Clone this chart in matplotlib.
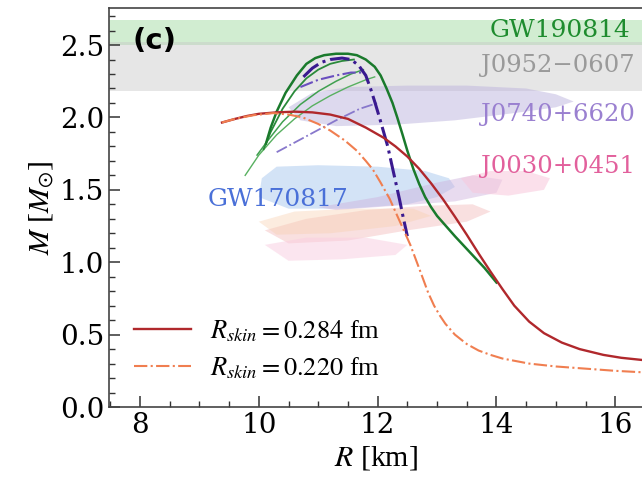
import matplotlib
matplotlib.use("Agg")
import matplotlib.pyplot as plt
from matplotlib.ticker import MultipleLocator

plt.rcParams['font.family'] = ['DejaVu Serif']
plt.rcParams['mathtext.fontset'] = 'stix'

# R_skin = 0.284 fm (solid dark red)
r_284 = [9.38, 9.6, 9.8, 10.0, 10.3, 10.6, 10.9, 11.2, 11.5, 11.8, 12.1, 12.3, 12.5, 12.7, 12.9, 13.1,
         13.3, 13.5, 13.7, 13.9, 14.1, 14.3, 14.55, 14.8, 15.1, 15.4, 15.8, 16.1, 16.45]
m_284 = [1.965, 1.99, 2.01, 2.025, 2.035, 2.04, 2.035, 2.02, 1.99, 1.93, 1.86, 1.80, 1.73, 1.645, 1.545, 1.435,
         1.315, 1.19, 1.06, 0.935, 0.815, 0.70, 0.59, 0.51, 0.445, 0.40, 0.36, 0.34, 0.325]

# R_skin = 0.220 fm (dash-dot coral)
r_220 = [9.38, 9.6, 9.9, 10.24, 10.5, 10.74, 11.0, 11.2, 11.45, 11.65, 11.8, 11.92, 12.05, 12.2, 12.32,
         12.43, 12.55, 12.66, 12.76, 12.85, 12.95, 13.05, 13.14, 13.3, 13.5, 13.7, 13.9, 14.1, 14.55, 15.0,
         15.5, 16.0, 16.45]
m_220 = [1.965, 1.99, 2.015, 2.03, 2.02, 2.0, 1.955, 1.91, 1.84, 1.77, 1.70, 1.64, 1.55, 1.44, 1.33,
         1.23, 1.12, 1.0, 0.89, 0.79, 0.70, 0.63, 0.575, 0.50, 0.435, 0.39, 0.36, 0.335, 0.30, 0.28,
         0.265, 0.25, 0.24]

# green family
r_g0 = [10.12, 10.2, 10.3, 10.45, 10.64, 10.8, 10.95, 11.1, 11.3, 11.5, 11.65, 11.8, 11.95, 12.05, 12.15,
        12.25, 12.33, 12.42, 12.5, 12.6, 12.7, 12.8, 12.9, 13.0, 13.15, 13.3, 13.55, 13.8, 14.0]
m_g0 = [1.82, 1.93, 2.04, 2.17, 2.29, 2.37, 2.41, 2.43, 2.44, 2.44, 2.43, 2.40, 2.35, 2.29, 2.20,
        2.10, 2.0, 1.88, 1.77, 1.645, 1.54, 1.45, 1.38, 1.32, 1.25, 1.18, 1.07, 0.96, 0.86]
r_g1 = [10.08, 10.2, 10.4, 10.6, 10.8, 11.0, 11.2, 11.4, 11.6]
m_g1 = [1.78, 1.90, 2.06, 2.18, 2.27, 2.33, 2.37, 2.39, 2.40]
r_g2 = [9.97, 10.15, 10.4, 10.7, 11.0, 11.3, 11.55, 11.76]
m_g2 = [1.74, 1.84, 1.97, 2.09, 2.18, 2.25, 2.30, 2.33]
r_g3 = [9.77, 10.0, 10.3, 10.6, 10.9, 11.2, 11.5, 11.8, 11.95]
m_g3 = [1.60, 1.74, 1.88, 1.99, 2.08, 2.15, 2.21, 2.26, 2.28]

# purple family
r_p0 = [10.75, 10.9, 11.05, 11.2, 11.4, 11.55, 11.68, 11.8, 11.88, 11.95, 12.03, 12.1, 12.17, 12.24,
        12.3, 12.37, 12.43, 12.5]
m_p0 = [2.28, 2.34, 2.38, 2.40, 2.41, 2.40, 2.36, 2.29, 2.20, 2.11, 2.0, 1.9, 1.8, 1.67,
        1.56, 1.43, 1.31, 1.18]
r_p1 = [10.7, 11.0, 11.3, 11.55, 11.78]
m_p1 = [2.21, 2.26, 2.29, 2.31, 2.31]
r_p2 = [10.3, 10.8, 11.3, 11.7, 12.0]
m_p2 = [1.76, 1.87, 1.98, 2.06, 2.10]

# observational constraints
gw190814 = (2.50, 2.67)
j0952 = (2.18, 2.52)

j0740_r = [10.5, 10.9, 11.5, 12.5, 13.5, 14.5, 15.0, 15.3, 15.0, 14.3, 13.3, 12.3, 11.3, 10.7]
j0740_m = [2.07, 2.17, 2.21, 2.22, 2.22, 2.20, 2.16, 2.11, 2.07, 2.03, 1.98, 1.95, 1.94, 1.98]
gw170817_r = [10.05, 10.3, 11.0, 12.0, 12.8, 13.2, 13.3, 13.0, 12.5, 11.5, 10.5, 10.0]
gw170817_m = [1.58, 1.66, 1.67, 1.66, 1.63, 1.58, 1.52, 1.45, 1.40, 1.37, 1.37, 1.45]
mauve_r = [11.0, 12.0, 13.0, 13.6, 14.1, 14.0, 13.3, 12.3, 11.3]
mauve_m = [1.38, 1.45, 1.55, 1.60, 1.57, 1.48, 1.42, 1.39, 1.36]
j0030_r = [13.4, 13.9, 14.5, 14.9, 14.8, 14.2, 13.6]
j0030_m = [1.58, 1.63, 1.63, 1.58, 1.50, 1.46, 1.48]
salmon_r = [10.1, 10.8, 11.8, 12.8, 13.6, 13.9, 13.5, 12.5, 11.5, 10.5]
salmon_m = [1.22, 1.30, 1.36, 1.39, 1.40, 1.35, 1.28, 1.22, 1.15, 1.13]
peach_r = [10.0, 10.6, 11.6, 12.6, 12.9, 12.3, 11.2, 10.3]
peach_m = [1.28, 1.35, 1.37, 1.37, 1.32, 1.25, 1.20, 1.19]
pink_r = [10.1, 10.8, 11.8, 12.5, 12.3, 11.4, 10.5]
pink_m = [1.12, 1.17, 1.17, 1.12, 1.05, 1.02, 1.01]

fig = plt.figure(figsize=(6.42, 4.78), dpi=100)
ax = fig.add_axes([0.170, 0.1485, 0.830, 0.8345])

ax.axhspan(*gw190814, color='#9bd89b', alpha=0.45, lw=0)
ax.axhspan(*j0952, color='#c8c8c8', alpha=0.45, lw=0)

ax.fill(j0740_r, j0740_m, color='#bdb4de', alpha=0.5, lw=0)
ax.fill(gw170817_r, gw170817_m, color='#b0ccf0', alpha=0.55, lw=0)
ax.fill(mauve_r, mauve_m, color='#cdb0dc', alpha=0.45, lw=0)
ax.fill(j0030_r, j0030_m, color='#f8c8dc', alpha=0.55, lw=0)
ax.fill(salmon_r, salmon_m, color='#f2b2b2', alpha=0.4, lw=0)
ax.fill(peach_r, peach_m, color='#f8d0b0', alpha=0.4, lw=0)
ax.fill(pink_r, pink_m, color='#f9cde0', alpha=0.5, lw=0)

ax.plot(r_g3, m_g3, color='#58b060', lw=1.0)
ax.plot(r_g2, m_g2, color='#40a050', lw=1.1)
ax.plot(r_g1, m_g1, color='#2a8a3a', lw=1.3)
ax.plot(r_g0, m_g0, color='#1a7a2c', lw=1.8)
ax.plot(r_p2, m_p2, color='#8878cc', lw=1.3, ls='-.')
ax.plot(r_p1, m_p1, color='#6a4fbf', lw=1.5, ls='-.')
ax.plot(r_p0, m_p0, color='#3a1a90', lw=2.2, ls='-.')

ax.plot(r_284, m_284, color='#b0282c', lw=1.7, label=r'$R_{skin}=0.284$ fm')
ax.plot(r_220, m_220, color='#f07e50', lw=1.5, ls='-.', label=r'$R_{skin}=0.220$ fm')

ax.text(7.88, 2.53, '(c)', fontsize=21, fontweight='bold', family='DejaVu Sans', va='center')
ax.text(16.25, 2.60, 'GW190814', color='#1e8c2e', fontsize=18, ha='right', va='center')
ax.text(16.33, 2.36, 'J0952\u22120607', color='#9a9a9a', fontsize=17.5, ha='right', va='center')
ax.text(16.33, 2.02, 'J0740+6620', color='#9a80d0', fontsize=17.5, ha='right', va='center')
ax.text(16.33, 1.66, 'J0030+0451', color='#e2609c', fontsize=17.5, ha='right', va='center')
ax.text(9.14, 1.43, 'GW170817', color='#4a70d8', fontsize=18, ha='left', va='center')

ax.set_xlim(7.48, 16.45)
ax.set_ylim(0, 2.755)
ax.xaxis.set_major_locator(MultipleLocator(2))
ax.xaxis.set_minor_locator(MultipleLocator(0.5))
ax.yaxis.set_major_locator(MultipleLocator(0.5))
ax.yaxis.set_minor_locator(MultipleLocator(0.1))
ax.tick_params(which='both', direction='in', colors='#333333', labelcolor='black', labelsize=20)
ax.tick_params(which='major', length=8, width=1.1)
ax.tick_params(which='minor', length=4, width=1.0)
for s in ['left', 'bottom', 'top']:
    ax.spines[s].set_color('#444444')
    ax.spines[s].set_linewidth(1.2)
ax.spines['right'].set_visible(False)

ax.set_xlabel(r'$R$ [km]', fontsize=21.5, family='Liberation Serif', labelpad=4)
ax.set_ylabel(r'$M$ [$M_{\odot}$]', fontsize=21.5, family='Liberation Serif', labelpad=2)

leg = ax.legend(loc='lower left', bbox_to_anchor=(0.003, 0.005), frameon=False,
                prop={'family': 'Liberation Serif', 'size': 19},
                handlelength=2.15, handletextpad=0.7, labelspacing=0.44)

fig.savefig('out.png', dpi=100)
